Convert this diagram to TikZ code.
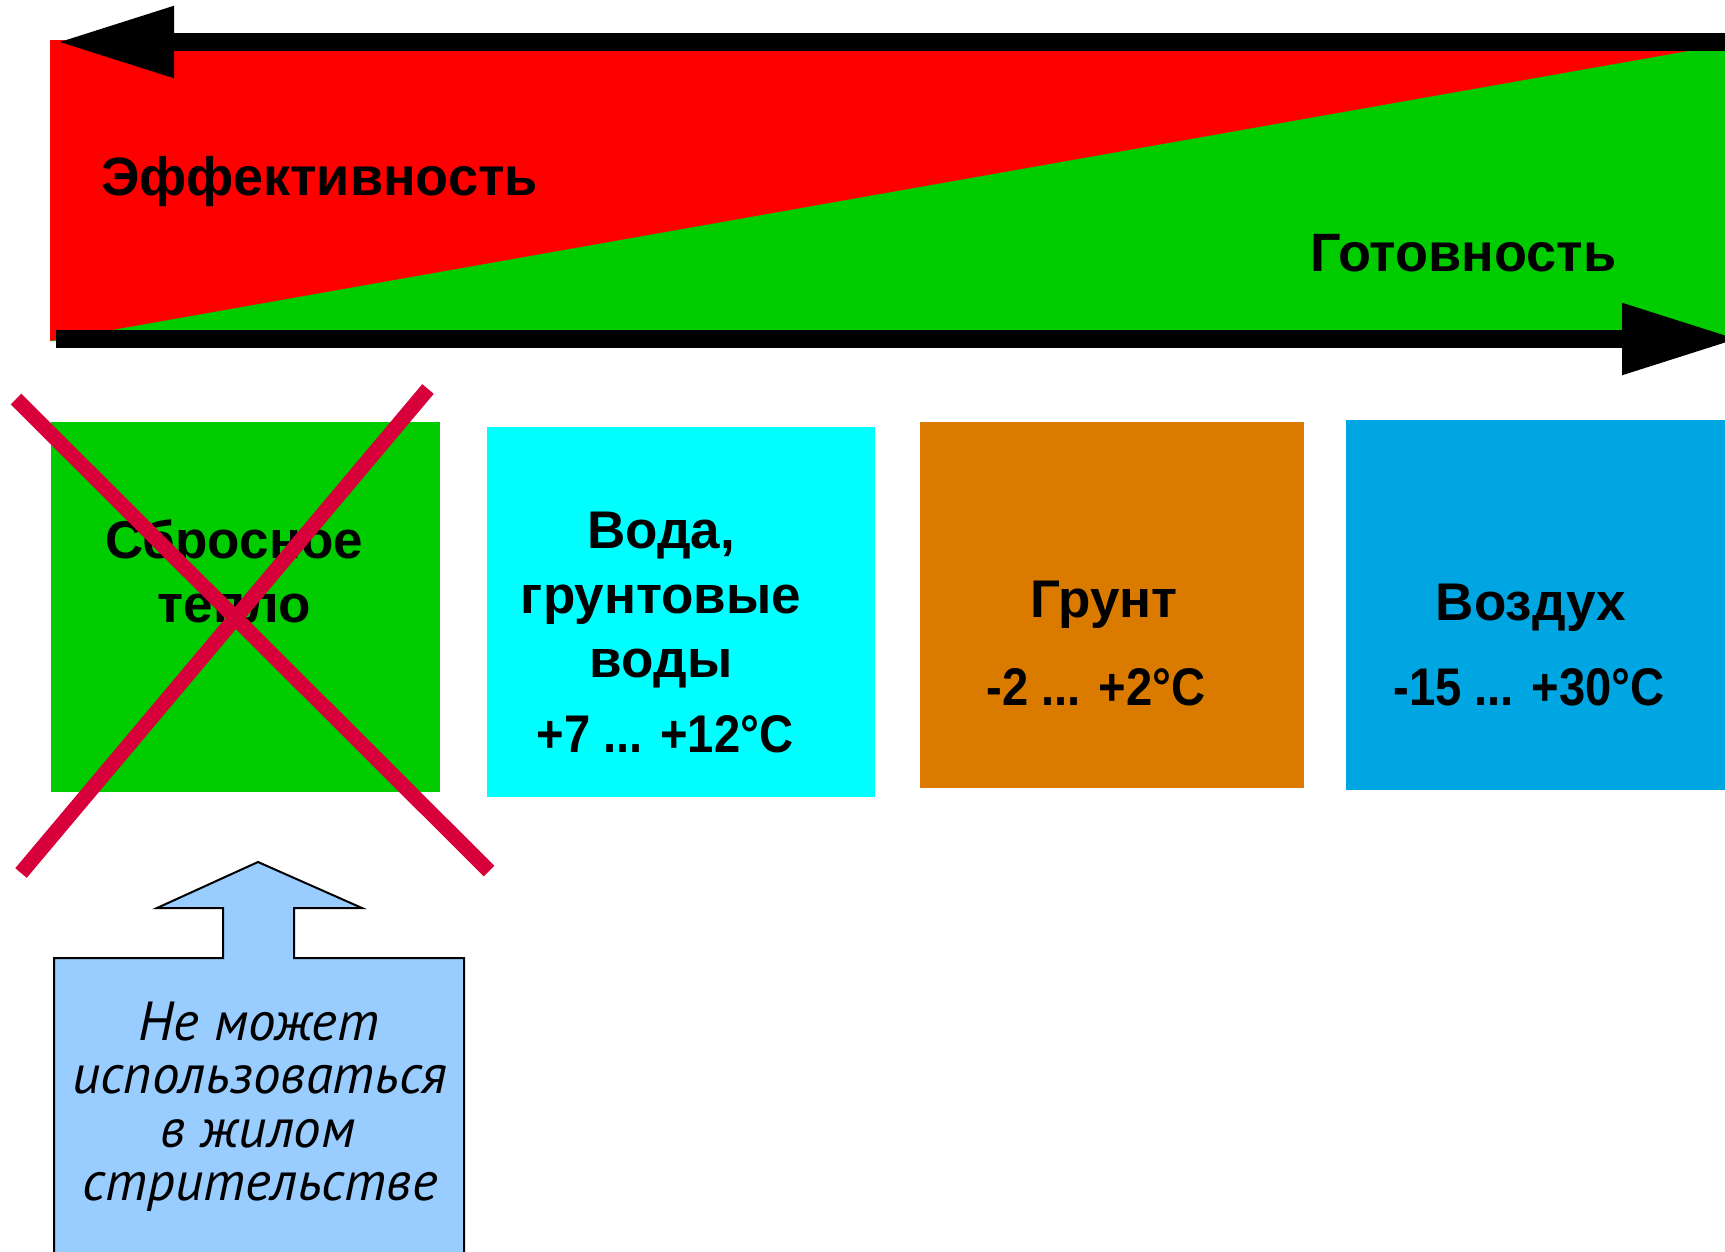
\documentclass[tikz,border=0pt]{standalone}
\usepackage{fontspec}
\setmainfont{Liberation Sans}
\newfontfamily\narrowsans[FakeStretch=0.89]{Liberation Sans}
\newfontfamily\cursivefont{PT Sans}
\usetikzlibrary{arrows.meta}

\definecolor{bandred}{HTML}{FF0000}
\definecolor{bandgreen}{HTML}{00CC00}
\definecolor{watercyan}{HTML}{00FFFF}
\definecolor{soilorange}{HTML}{DA7B00}
\definecolor{airblue}{HTML}{00A6E2}
\definecolor{crossred}{HTML}{D8003A}
\definecolor{noteblue}{HTML}{99CCFF}

\tikzset{
  scalearrow/.style={draw=black, line width=18pt,
    -{Triangle[length=117pt, width=67pt]}},
  sourcebox/.style={draw=none, inner sep=0pt, outer sep=0pt},
  label/.style={inner sep=0pt, anchor=base, text=black,
    font=\fontsize{53}{60}\selectfont\bfseries},
  templabel/.style={label,
    font=\narrowsans\fontsize{53}{60}\selectfont\bfseries},
  bandlabel/.style={label, anchor=base west,
    font=\fontsize{54}{60}\selectfont\bfseries},
  notetext/.style={inner sep=0pt, anchor=base, text=black,
    font=\cursivefont\itshape\fontsize{55}{60}\selectfont},
  crossline/.style={draw=crossred, line width=15pt},
}

\begin{document}
\begin{tikzpicture}[x=1pt, y=-1pt]
  \useasboundingbox (0,0) rectangle (1725,1251);
  \begin{scope}
    \clip (0,0) rectangle (1725,1251);

    % efficiency / readiness band
    \fill[bandred] (50,40) rectangle (1745,341);
    \fill[bandgreen] (50,341) -- (1745,41) -- (1745,341) -- cycle;

    % scale arrows along the band
    \coordinate (effstart) at (1745,42);
    \coordinate (effend) at (57,42);
    \coordinate (readystart) at (56,339);
    \coordinate (readyend) at (1739,339);
    \draw[scalearrow] (effstart) -- (effend);
    \draw[scalearrow] (readystart) -- (readyend);

    \node[bandlabel] (efflabel) at (101,195) {Эффективность};
    \node[bandlabel] (readylabel) at (1310,271) {Готовность};

    % heat source boxes
    \fill[bandgreen] (51,422) rectangle (440,792);
    \node[sourcebox] (waste) at (245.5,607) {};
    \fill[watercyan] (487,427) rectangle (875,797);
    \node[sourcebox] (water) at (681,612) {};
    \fill[soilorange] (920,422) rectangle (1304,788);
    \node[sourcebox] (soil) at (1112,605) {};
    \fill[airblue] (1346,420) rectangle (1735,790);
    \node[sourcebox] (air) at (1540,605) {};

    \node[label] (waste1) at (234,558) {Сбросное};
    \node[label] (waste2) at (234,622) {тепло};

    \node[label] (water1) at (661,548) {Вода,};
    \node[label] (water2) at (661,613) {грунтовые};
    \node[label] (water3) at (661,677) {воды};
    \node[templabel] (water4) at (665,752) {+7 ... +12°C};

    \node[label] (soil1) at (1104,617) {Грунт};
    \node[templabel] (soil2) at (1096,705) {-2 ... +2°C};

    \node[label] (air1) at (1531,620) {Воздух};
    \node[templabel] (air2) at (1529,705) {-15 ... +30°C};

    % crossed-out source
    \coordinate (xa1) at (16,399);
    \coordinate (xa2) at (489,871);
    \coordinate (xb1) at (428,389);
    \coordinate (xb2) at (21,873);
    \draw[crossline] (xa1) -- (xa2);
    \draw[crossline] (xb1) -- (xb2);

    % callout pointing up to the crossed-out box
    \draw[fill=noteblue, draw=black, line width=2pt, line join=miter]
      (258,862) -- (362,908) -- (294,908) -- (294,958) -- (464,958)
      -- (464,1270) -- (54,1270) -- (54,958) -- (223,958) -- (223,908)
      -- (157,908) -- cycle;

    \node[notetext] (note1) at (259,1040) {Не может};
    \node[notetext] (note2) at (260,1093) {использоваться};
    \node[notetext] (note3) at (258,1147) {в жилом};
    \node[notetext] (note4) at (260,1200) {стрительстве};
  \end{scope}
\end{tikzpicture}
\end{document}
